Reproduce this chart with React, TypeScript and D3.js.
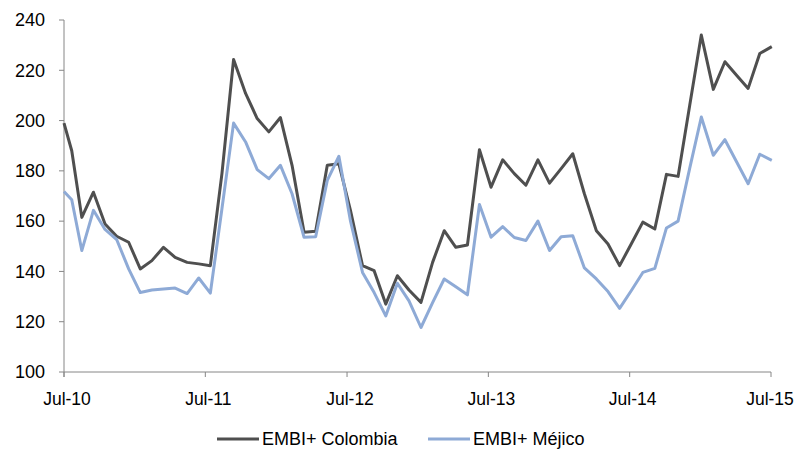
import * as React from 'react';
import * as d3 from 'd3';

// EMBI+ spread series (roughly monthly, Jul-10 .. Jul-15)
const colombia = [199, 188, 161.5, 171.5, 158.9, 154, 151.6, 141, 144.3, 149.6, 145.6, 143.6,
    143, 142.3, 179, 224.3, 210.8, 200.8, 195.5, 201.2, 182.2, 155.6,
    156, 182.2, 182.8, 164.2, 142.3, 140.3, 127, 138.3, 132.6, 127.7,
    143.6, 156.2, 149.6, 150.5, 188.4, 173.5, 184.4, 178.9, 174.3, 184.4,
    175.1, 180.9, 186.8, 170.9, 156.2, 150.9, 142.3, 150.9, 159.6, 156.9,
    178.6, 177.8, 206, 234, 212.4, 223.4, 218, 212.8, 226.7, 229.4];

const mexico = [171.8, 168.5, 148.3, 164.3, 156.7, 152.7, 141, 131.6, 132.6, 133, 133.4, 131.2,
    137.4, 131.4, 165, 199, 191.5, 180.5, 176.9, 182.2, 170.9, 153.6,
    153.8, 176.2, 185.8, 160, 139.6, 131.6, 122.3, 135.3, 128.3, 117.7,
    127.6, 137, 133.9, 130.7, 166.6, 153.6, 157.8, 153.5, 152.3, 160,
    148.3, 153.8, 154.2, 141.4, 137, 132, 125.3, 132.3, 139.6, 141.2,
    157.3, 160, 181, 201.4, 186.2, 192.4, 183.6, 174.9, 186.6, 184.2];

const seriesNames = ["EMBI+ Colombia", "EMBI+ Méjico"];
const seriesColors = ["#4f4f4f", "#8eaad6"];

const tickLabels = ["Jul-10", "Jul-11", "Jul-12", "Jul-13", "Jul-14", "Jul-15"];
const yTicks = [100, 120, 140, 160, 180, 200, 220, 240];

// observation dates: two at the start of the window, then about one a month
const start = new Date(Date.UTC(2010, 6, 1));
const dates: Date[] = [start, d3.utcDay.offset(start, 20)]
    .concat(d3.range(60).map((k) => d3.utcDay.offset(start, Math.round(45.7 + 30.2 * k))));
const tickDates = tickLabels.map((_, i) => new Date(Date.UTC(2010 + i, 6, 1)));

const width = 798;
const height = 450;
const font = "'Liberation Sans', Arial, sans-serif";
const axisColor = "#868686";

export default function App() {
    const x = d3.scaleTime()
        .domain([tickDates[0], tickDates[tickDates.length - 1]])
        .range([64, 771]);
    const y = d3.scaleLinear().domain([100, 240]).range([372, 20]);

    const line = d3.line<number>()
        .x((_, i) => x(dates[i]))
        .y((d) => y(d));

    const series = [colombia, mexico];
    const legendX = [217, 428];

    return (
        <svg width={width} height={height} style={{ position: 'absolute', left: 0, top: 0, background: '#fff' }}
            fontFamily={font}>
            {/* y axis */}
            <line x1={x.range()[0]} x2={x.range()[0]} y1={y(240)} y2={y(100) + 5} stroke={axisColor} strokeWidth={1} />
            {yTicks.map((t) => (
                <g key={t}>
                    <line x1={x.range()[0] - 5} x2={x.range()[0]} y1={y(t)} y2={y(t)} stroke={axisColor} />
                    <text x={45} y={y(t)} dy="0.35em" textAnchor="end" fontSize={18} fill="#000">{t}</text>
                </g>
            ))}
            {/* x axis */}
            <line x1={x.range()[0]} x2={x.range()[1]} y1={y(100)} y2={y(100)} stroke={axisColor} />
            {tickDates.map((d, i) => (
                <g key={tickLabels[i]}>
                    <line x1={x(d)} x2={x(d)} y1={y(100)} y2={y(100) + 5} stroke={axisColor} />
                    <text x={Math.min(x(d) + 3, width - 28)} y={405} textAnchor="middle" fontSize={17.5} fill="#000">{tickLabels[i]}</text>
                </g>
            ))}
            {series.map((s, i) => (
                <path key={seriesNames[i]} d={line(s) || ''} fill="none" stroke={seriesColors[i]}
                    strokeWidth={3} strokeLinejoin="round" />
            ))}
            {/* legend */}
            {seriesNames.map((n, i) => (
                <g key={n}>
                    <line x1={legendX[i]} x2={legendX[i] + 42} y1={439} y2={439} stroke={seriesColors[i]} strokeWidth={3} />
                    <text x={legendX[i] + 45} y={445} fontSize={18} fill="#000">{n}</text>
                </g>
            ))}
        </svg>
    );
}
